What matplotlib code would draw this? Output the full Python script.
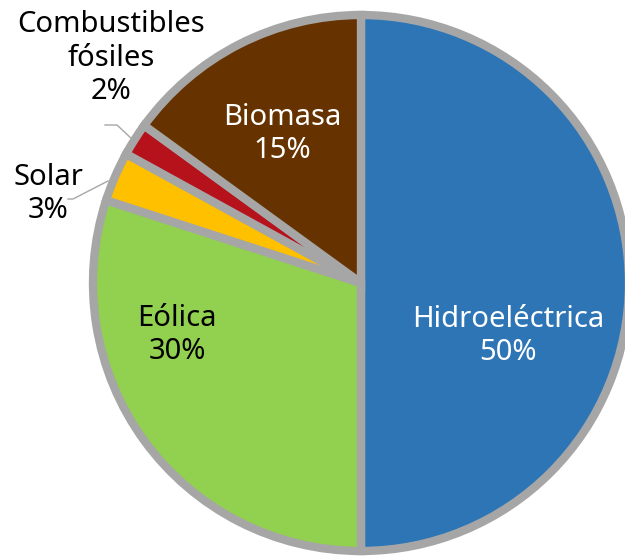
import matplotlib
matplotlib.use("Agg")
import matplotlib.pyplot as plt

# data
labels = ["Hidroeléctrica", "Eólica", "Solar", "Combustibles\nfósiles", "Biomasa"]
values = [50, 30, 3, 2, 15]
colors = ["#2E75B6", "#92D050", "#FFC000", "#B5121B", "#663300"]
text_colors = ["white", "black", "black", "black", "white"]

W, H = 625, 556
fig = plt.figure(figsize=(W / 100, H / 100), dpi=100)
ax = fig.add_axes([0, 0, 1, 1])

cx, cy, r = 361, H - 283, 268
wedges, _ = ax.pie(values, colors=colors, startangle=90, counterclock=False,
                   center=(cx, cy), radius=r, frame=True,
                   wedgeprops=dict(edgecolor="#A6A6A6", linewidth=6))
ax.set_xlim(0, W)
ax.set_ylim(0, H)
ax.set_aspect("equal")
ax.axis("off")

# label positions in pixel coordinates (from top)
label_pos = [(508, 336), (177, 335), (48, 194), (111, 58), (282, 134)]
for lab, v, (px, py), tc in zip(labels, values, label_pos, text_colors):
    ax.text(px, H - py, "%s\n%d%%" % (lab, v), ha="center", va="center",
            fontsize=21, color=tc, family="Noto Sans", linespacing=1.2)

# leader lines
ax.plot([68, 73, 108], [H - 199, H - 199, H - 181], color="#A6A6A6", lw=1)
ax.plot([105, 117, 133], [H - 125, H - 125, H - 140], color="#A6A6A6", lw=1)

fig.savefig("out.png", dpi=100)
